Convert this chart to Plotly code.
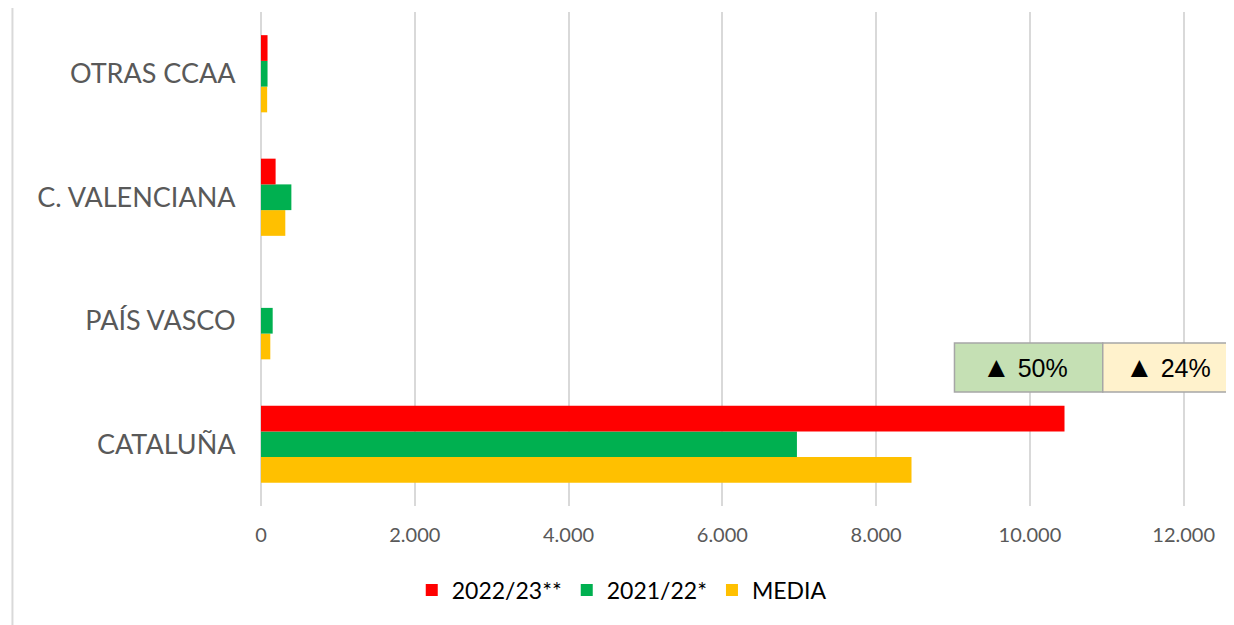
import plotly.graph_objects as go

# datos (de abajo hacia arriba, como los dibuja plotly)
comunidades = ["CATALUÑA", "PAÍS VASCO", "C. VALENCIANA", "OTRAS CCAA"]
v_2022_23 = [10450, 0, 190, 85]
v_2021_22 = [6970, 152, 395, 85]
v_media = [8460, 121, 316, 80]
x_ticks = [0, 2000, 4000, 6000, 8000, 10000, 12000]
var_labels = ["50%", "24%"]

fuente = "Lato"

fig = go.Figure()
# se añaden en orden inverso para que el rojo quede arriba en cada grupo
fig.add_trace(go.Bar(y=comunidades, x=v_media, name="MEDIA", orientation='h',
                     marker=dict(color='#FFC000', line=dict(width=0))))
fig.add_trace(go.Bar(y=comunidades, x=v_2021_22, name="2021/22*", orientation='h',
                     marker=dict(color='#00B050', line=dict(width=0))))
fig.add_trace(go.Bar(y=comunidades, x=v_2022_23, name="2022/23**", orientation='h',
                     marker=dict(color='#FF0000', line=dict(width=0))))

# la página tiene 8px de margen, por eso 1226x617
fig.update_layout(width=1226, height=617, barmode='group', bargap=0.375, bargroupgap=0,
                  plot_bgcolor='#FFFFFF', paper_bgcolor='#FFFFFF', separators=',.',
                  margin=dict(l=253, r=48, t=4, b=119),
                  font=dict(family=fuente, color='#595959'),
                  legend=dict(orientation='h', traceorder='reversed', x=0.39, xanchor='center',
                              y=-0.17, yanchor='middle', font=dict(size=23, color='#000000'),
                              itemwidth=30))

fig.update_xaxes(range=[0, 12030], tickvals=x_ticks, tickformat=',d', showgrid=True,
                 gridcolor='#D9D9D9', gridwidth=1.5, zeroline=True, zerolinecolor='#D9D9D9',
                 zerolinewidth=2, ticks='outside', ticklen=11, tickcolor='rgba(0,0,0,0)',
                 tickfont=dict(size=20, color='#595959'), showline=False)
fig.update_yaxes(showgrid=False, ticks='outside', ticklen=19, tickcolor='rgba(0,0,0,0)',
                 tickfont=dict(size=27, color='#595959'), showline=False)

# borde izquierdo del marco
fig.add_shape(type='line', xref='paper', yref='paper', x0=-0.2687, x1=-0.2687, y0=-0.25, y1=1.03,
              line=dict(color='#D9D9D9', width=2))

# cajas de variación
cajas = [(0.7497, 0.910, '#C5E0B4'), (0.910, 1.06, '#FFF2CC')]
for (x0, x1, color), texto in zip(cajas, var_labels):
    fig.add_shape(type='rect', xref='paper', yref='paper', x0=x0, x1=x1, y0=0.2308, y1=0.33,
                  fillcolor=color, line=dict(color='#A6A6A6', width=1.5))
    fig.add_annotation(xref='paper', yref='paper', x=(x0 + x1) / 2 - 0.004, y=0.2804,
                       text="<span style='font-size:29px'>▲</span> " + texto,
                       xanchor='center', yanchor='middle', showarrow=False,
                       font=dict(family='Liberation Sans', size=25, color='#000000'))

fig.write_html("out.html")
